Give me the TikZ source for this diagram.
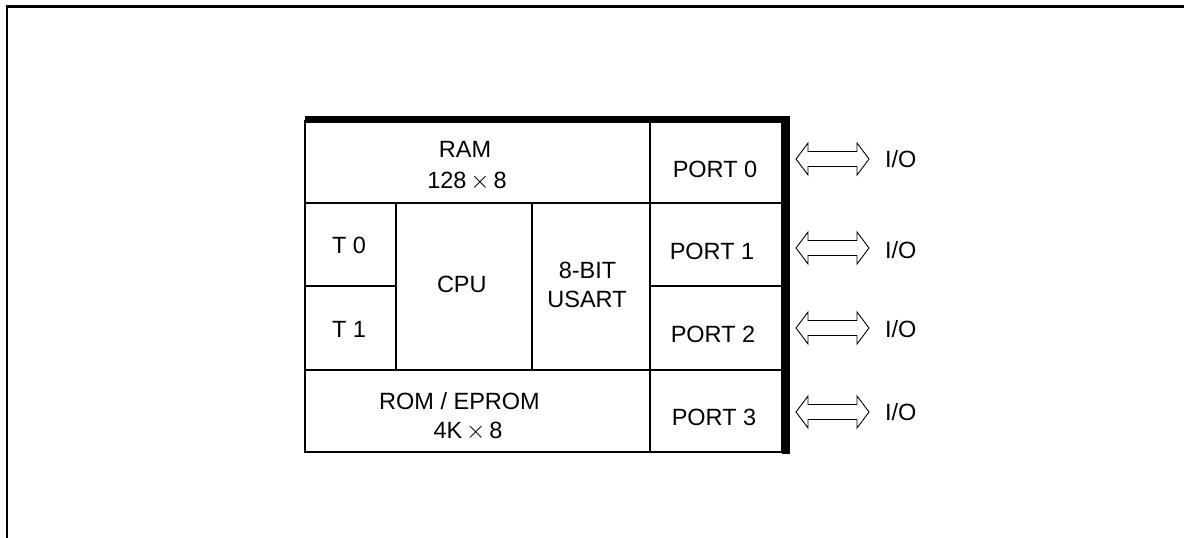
\documentclass[tikz,border=0pt]{standalone}
\usepackage{fontspec}
\setmainfont{Liberation Sans}
\begin{document}
\begin{tikzpicture}[x=1pt,y=-1pt,
  cell/.style={draw,line width=2.3pt,inner sep=0pt,outer sep=0pt,rectangle},
  lbl/.style={anchor=base,inner sep=0pt,outer sep=0pt,font=\fontsize{23.5}{28}\selectfont},
  ioarrow/.style={draw,line width=0.9pt,line join=miter}]
\useasboundingbox (0,0) rectangle (1184,538);
% frame
\draw[line width=2.2pt] (7.3,538) -- (7.3,6.5) -- (1184,6.5);
% cells
\node[cell,minimum width=345pt,minimum height=82pt] (ram) at (477.5,162) {};
\node[cell,minimum width=132pt,minimum height=82pt] (port0) at (716,162) {};
\node[cell,minimum width=91pt,minimum height=83pt] (t0) at (350.5,244.5) {};
\node[cell,minimum width=91pt,minimum height=84pt] (t1) at (350.5,328) {};
\node[cell,minimum width=136pt,minimum height=167pt] (cpu) at (464,286.5) {};
\node[cell,minimum width=118pt,minimum height=167pt] (usart) at (591,286.5) {};
\node[cell,minimum width=132pt,minimum height=83pt] (port1) at (716,244.5) {};
\node[cell,minimum width=132pt,minimum height=84pt] (port2) at (716,328) {};
\node[cell,minimum width=345pt,minimum height=82pt] (rom) at (477.5,411) {};
\node[cell,minimum width=132pt,minimum height=82pt] (port3) at (716,411) {};
% shadow (thick top and right edges)
\fill (305,116) rectangle (790,123);
\fill (782,116) rectangle (790,454);
% labels
\node[lbl] (ramA) at (465,157) {RAM};
\node[lbl] (ramB) at (467,188) {128\,$\times$\,8};
\node[lbl] (p0) at (715,177) {PORT 0};
\node[lbl] (p1) at (712,259) {PORT 1};
\node[lbl] (p2) at (713,342) {PORT 2};
\node[lbl] (p3) at (714,425) {PORT 3};
\node[lbl,anchor=base west] (tz) at (332,253) {T 0};
\node[lbl,anchor=base west] (to) at (332,337) {T 1};
\node[lbl,anchor=base west] (cpuL) at (437,292) {CPU};
\node[lbl] (bitL) at (587.5,278) {8-BIT};
\node[lbl] (usartL) at (587,307) {USART};
\node[lbl] (romA) at (459.5,409) {ROM / EPROM};
\node[lbl] (romB) at (468,438) {4K\,$\times$\,8};
% I/O arrows and labels
\foreach \c/\b/\n in {159/167/0,248/258/1,328/337/2,412/420/3}{
  \draw[ioarrow] (796,\c) -- (808,{\c-16}) -- (808,{\c-7.5}) -- (857,{\c-7.5}) -- (857,{\c-16})
     -- (869,\c) -- (857,{\c+16}) -- (857,{\c+7.5}) -- (808,{\c+7.5}) -- (808,{\c+16}) -- cycle;
  \node[lbl,anchor=base west] (io\n) at (885,\b) {I/O};
}
\end{tikzpicture}
\end{document}
